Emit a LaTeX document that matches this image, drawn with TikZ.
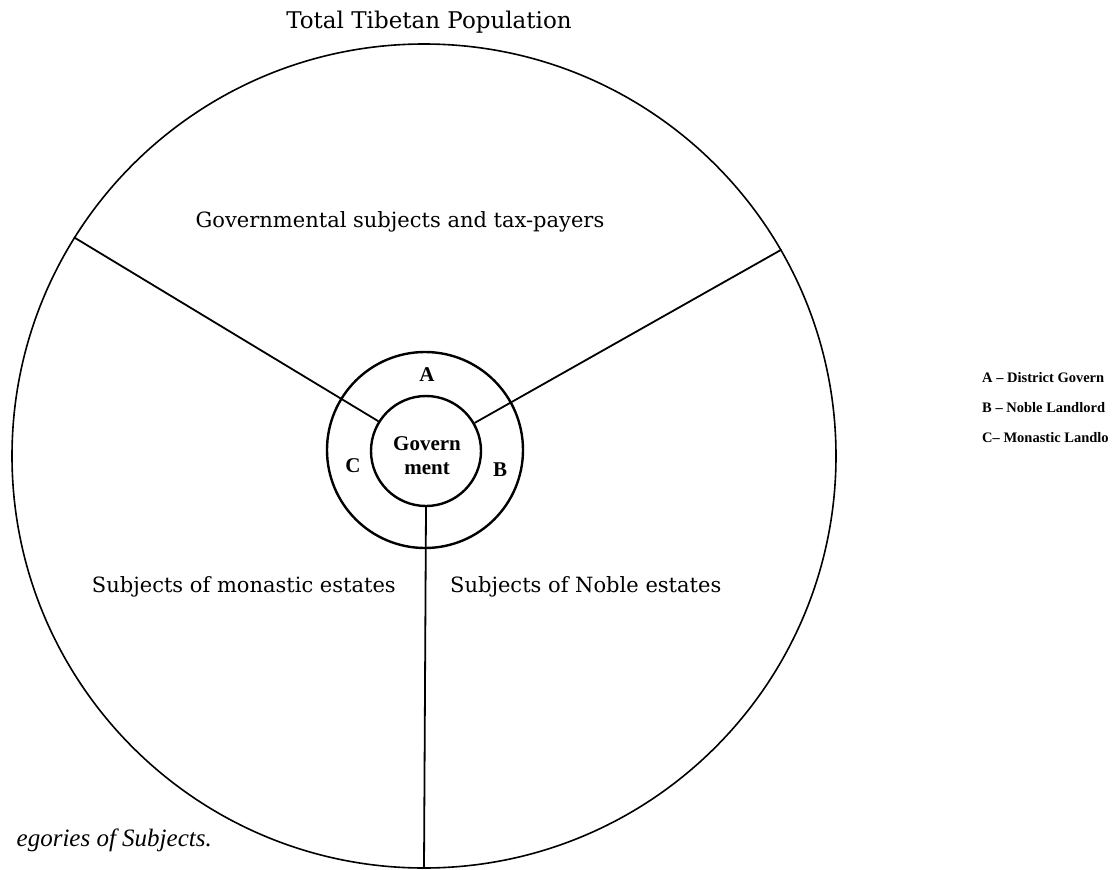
\documentclass[tikz,border=0pt]{standalone}
\usepackage{fontspec}
\setmainfont{DejaVu Serif}
\newfontfamily\tnr{Liberation Serif}
\tikzset{
  ring/.style={circle, draw, inner sep=0pt, line width=2.4pt},
  bigring/.style={circle, draw, inner sep=0pt, line width=1.6pt},
  spoke/.style={line width=1.8pt},
  lbl/.style={inner sep=0pt, font=\fontsize{21}{24}\selectfont},
  seg/.style={inner sep=0pt, font=\tnr\bfseries\fontsize{21}{24}\selectfont},
  leg/.style={inner sep=0pt, anchor=west, font=\tnr\bfseries\fontsize{14.5}{17}\selectfont},
}
\begin{document}
\begin{tikzpicture}[x=1pt,y=-1pt]
\useasboundingbox (0,0) rectangle (1112,870);
\clip (0,0) rectangle (1112,870);
\node[bigring, minimum size=824pt] (big) at (424,456) {};
\node[ring, minimum size=196pt] (mid) at (425,450) {};
\node[ring, minimum size=110pt] (gov) at (426,451) {};
\draw[spoke] (gov.30) -- (big.30);
\draw[spoke] (gov.148) -- (big.148);
\draw[spoke] (gov.270) -- (big.270);
\node[align=center, inner sep=0pt, font=\tnr\bfseries\fontsize{21}{24}\selectfont] (govtxt) at (427,456) {Govern\\ment};
\node[seg] (a) at (427,375) {A};
\node[seg] (b) at (500,470) {B};
\node[seg] (c) at (353,466) {C};
\node[inner sep=0pt, font=\fontsize{23}{27}\selectfont] (title) at (429,22) {Total Tibetan Population};
\node[lbl] (gst) at (400,222) {Governmental subjects and tax-payers};
\node[lbl, anchor=east] (mon) at (396,587) {Subjects of monastic estates};
\node[lbl, anchor=west] (nob) at (450,587) {Subjects of Noble estates};
\node[leg] (la) at (982,378) {A – District Govern};
\node[leg] (lb) at (982,408) {B – Noble Landlord};
\node[leg] (lc) at (982,438) {C– Monastic Landlo};
\node[inner sep=0pt, anchor=east, font=\tnr\itshape\fontsize{25}{29}\selectfont] (cap) at (212,840) {egories of Subjects.};
\end{tikzpicture}
\end{document}
